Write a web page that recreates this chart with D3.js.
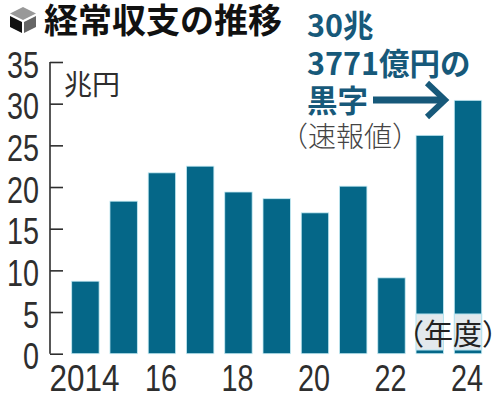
<!DOCTYPE html>
<html>
<head>
<meta charset="utf-8">
<script src="https://cdn.jsdelivr.net/npm/d3@7"></script>
<style>
html, body { margin: 0; padding: 0; background: #fff; }
svg { display: block; }
.num { font-family: "Liberation Sans", sans-serif; }
.jp { font-family: "Noto Sans CJK JP", sans-serif; }
</style>
</head>
<body>
<div id="chart"></div>
<script>
var width = 500, height = 394;

var years = [2014, 2015, 2016, 2017, 2018, 2019, 2020, 2021, 2022, 2023, 2024];
var surplus = [8.7, 18.3, 21.7, 22.5, 19.4, 18.6, 16.9, 20.1, 9.1, 26.2, 30.4];
var yTicks = [0, 5, 10, 15, 20, 25, 30, 35];
var xTicks = [2014, 2016, 2018, 2020, 2022, 2024];

var title = '経常収支の推移';
var unitLabel = '兆円';
var yearLabel = '（年度）';
var noteLines = ['30兆', '3771億円の', '黒字'];
var noteSub = '（速報値）';
var haloYears = [2023, 2024];

var barColor = '#056788';
var noteColor = '#17597a';
var inkColor = '#2e2e2e';

var svg = d3.select('#chart').append('svg')
    .attr('width', width)
    .attr('height', height);

var x = d3.scaleBand()
    .domain(years)
    .range([71.7, 481.7])
    .paddingInner(0.284)
    .paddingOuter(0);

var y = d3.scaleLinear()
    .domain([0, 35])
    .range([353.7, 62]);

// bars
svg.append('g').selectAll('rect')
    .data(years)
    .enter().append('rect')
    .attr('x', (d) => x(d))
    .attr('y', (d, i) => y(surplus[i]))
    .attr('width', x.bandwidth())
    .attr('height', (d, i) => y(0) - y(surplus[i]))
    .attr('fill', barColor)
    .attr('stroke', '#c4eaf3')
    .attr('stroke-width', 0.8);

// pale patch behind the year unit, only where it crosses the bars
svg.append('g').selectAll('rect')
    .data(haloYears)
    .enter().append('rect')
    .attr('x', (d) => x(d))
    .attr('y', 314)
    .attr('width', x.bandwidth())
    .attr('height', 36)
    .attr('fill', '#e3e9ed')
    .attr('stroke', '#b5e4f0')
    .attr('stroke-width', 1);

// digits are condensed in the original, so squeeze them to width
function squeeze(d) {
    var label = this.textContent;
    d3.select(this)
        .attr('textLength', label.length * (label.length > 2 ? 17.5 : 16))
        .attr('lengthAdjust', 'spacingAndGlyphs');
}

// y axis, ticks point into the plot
var yAxis = d3.axisLeft(y)
    .tickValues(yTicks)
    .tickSize(-13);

var gy = svg.append('g')
    .attr('transform', 'translate(50,0)')
    .call(yAxis);
gy.select('.domain').attr('stroke', inkColor).attr('stroke-width', 1.6).attr('d', 'M0,' + y(35) + 'V' + y(0));
gy.selectAll('.tick line').attr('stroke', inkColor).attr('stroke-width', 1.6);
gy.selectAll('.tick text')
    .attr('class', 'num')
    .attr('x', -11)
    .attr('dy', 15)
    .attr('font-size', 36)
    .attr('fill', inkColor)
    .each(squeeze);

// x axis, year labels only
var xAxis = d3.axisBottom(x)
    .tickValues(xTicks)
    .tickSize(0)
    .tickFormat((d) => d === 2014 ? '2014' : String(d).slice(2));

var gx = svg.append('g')
    .attr('transform', 'translate(-1,353.7)')
    .call(xAxis);
gx.select('.domain').remove();
gx.selectAll('.tick text')
    .attr('class', 'num')
    .attr('y', 37)
    .attr('dy', 0)
    .attr('font-size', 37)
    .attr('fill', inkColor)
    .each(squeeze);

// title and cube icon
var icon = svg.append('g');
icon.append('path').attr('d', 'M23,7L36,13.5L23,20L10,13.5Z').attr('fill', '#999');
icon.append('path').attr('d', 'M10,16L22,22V33L10,27Z').attr('fill', '#111');
icon.append('path').attr('d', 'M36,16L24,22V33L36,27Z').attr('fill', '#666');

svg.append('text')
    .attr('class', 'jp')
    .attr('x', 44)
    .attr('y', 33)
    .attr('font-size', 34)
    .attr('font-weight', 700)
    .attr('fill', '#111')
    .text(title);

svg.append('text')
    .attr('class', 'jp')
    .attr('x', 64)
    .attr('y', 95)
    .attr('font-size', 28)
    .attr('fill', inkColor)
    .text(unitLabel);

// callout
svg.append('g').selectAll('text')
    .data(noteLines)
    .enter().append('text')
    .attr('class', 'jp')
    .attr('x', 307)
    .attr('y', (d, i) => 37 + i * 37.5)
    .attr('font-size', 30.5)
    .attr('font-weight', 700)
    .attr('fill', noteColor)
    .text((d) => d);

var arrow = d3.line();
svg.append('path')
    .attr('d', arrow([[373, 100], [445, 100]]))
    .attr('stroke', noteColor)
    .attr('stroke-width', 7)
    .attr('fill', 'none');
svg.append('path')
    .attr('d', arrow([[427, 83], [445, 100], [427, 117]]))
    .attr('stroke', noteColor)
    .attr('stroke-width', 6)
    .attr('fill', 'none');

svg.append('text')
    .attr('class', 'jp')
    .attr('x', 280)
    .attr('y', 147)
    .attr('font-size', 28)
    .attr('font-weight', 300)
    .attr('fill', '#444')
    .text(noteSub);

svg.append('text')
    .attr('class', 'jp')
    .attr('x', 395)
    .attr('y', 345)
    .attr('font-size', 29)
    .attr('fill', '#222')
    .text(yearLabel);
</script>
</body>
</html>
